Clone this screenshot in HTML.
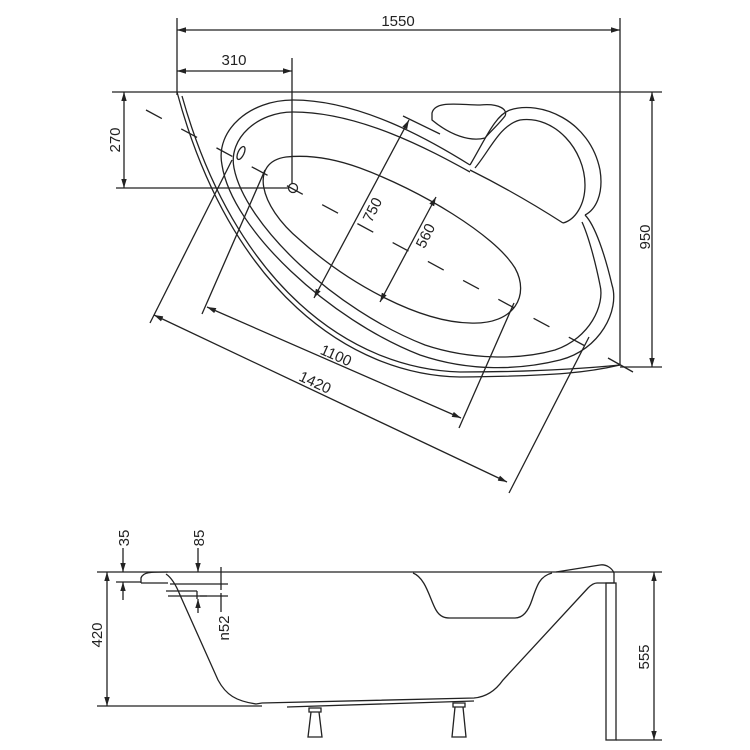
<!DOCTYPE html>
<html><head><meta charset="utf-8"><style>
html,body{margin:0;padding:0;background:#fff;}
svg{display:block;}
text{font-family:"Liberation Sans",sans-serif;font-size:15px;fill:#222;}
</style></head><body>
<svg width="750" height="750" viewBox="0 0 750 750" xmlns="http://www.w3.org/2000/svg">
<defs>
<marker id="a" viewBox="0 0 10 10" refX="10" refY="5" markerWidth="7" markerHeight="7" orient="auto-start-reverse"><path d="M0,2 L10,5 L0,8 Z" fill="#222"/></marker>
</defs>
<g fill="none" stroke="#222" stroke-width="1.3">
<line x1="177" y1="18" x2="177" y2="95"/>
<line x1="620" y1="18" x2="620" y2="92"/>
<line x1="177" y1="30" x2="620" y2="30" marker-start="url(#a)" marker-end="url(#a)"/>
<line x1="177" y1="71" x2="292" y2="71" marker-start="url(#a)" marker-end="url(#a)"/>
<line x1="292" y1="58" x2="292" y2="184"/>
<line x1="112" y1="92" x2="177" y2="92"/>
<line x1="124" y1="92" x2="124" y2="188" marker-start="url(#a)" marker-end="url(#a)"/>
<line x1="116" y1="188" x2="288" y2="188"/>
<circle cx="293" cy="188" r="4.5"/>
<line x1="620" y1="92" x2="662" y2="92"/>
<line x1="620" y1="367" x2="662" y2="367"/>
<line x1="652" y1="92" x2="652" y2="367" marker-start="url(#a)" marker-end="url(#a)"/>
<path d="M177,92 L620,92 L620,365 C590,372 560,376 460,377 C350,375 230,290 177,92"/>
<path d="M182,96 C235,285 350,369 460,372 C540,372 590,368 620,365"/>
<path d="M470,165 C430,140 360,100 293,100 C250,100 215,130 222,165 C232,230 330,320 420,355 C470,372 520,370 560,360 C600,350 620,310 612,285 C605,255 595,225 585,215"/>
<path d="M470,172 C430,150 360,112 293,112 C258,112 228,138 234,168 C245,225 335,310 425,345 C470,360 520,360 555,350 C590,338 605,305 600,285 C595,260 588,235 582,222"/>
<path d="M470,170 C500,185 535,205 563,223"/>
<path d="M470,165 C485,140 495,115 510,110 C540,100 590,120 600,170 C604,195 595,210 585,215"/>
<path d="M475,168 C490,150 500,125 520,120 C555,115 585,150 585,185 C585,205 575,220 563,223"/>
<path d="M432,113 C435,100 460,105 480,105 C500,103 508,110 505,116 C498,125 490,132 485,138 C470,142 450,135 432,120 Z"/>
<path d="M286,157 C250,162 258,205 300,240 C350,285 420,322 470,323 C515,325 530,295 515,268 C495,235 420,190 360,168 C330,157 305,155 286,157 Z"/>
<ellipse cx="241" cy="153" rx="3" ry="7" transform="rotate(25 241 153)"/>
<line x1="146" y1="110" x2="600" y2="354" stroke-dasharray="18 22"/>
<line x1="608" y1="358" x2="633" y2="372"/>
<line x1="409" y1="120" x2="314" y2="298" marker-start="url(#a)" marker-end="url(#a)"/>
<line x1="403" y1="116" x2="440" y2="134"/>
<line x1="436" y1="197" x2="380" y2="302" marker-start="url(#a)" marker-end="url(#a)"/>
<line x1="207" y1="307" x2="461" y2="418" marker-start="url(#a)" marker-end="url(#a)"/>
<line x1="154" y1="315" x2="507" y2="482" marker-start="url(#a)" marker-end="url(#a)"/>
<line x1="202" y1="314" x2="265" y2="170"/>
<line x1="150" y1="323" x2="232" y2="160"/>
<line x1="459" y1="428" x2="514" y2="303"/>
<line x1="509" y1="493" x2="589" y2="337"/>

<line x1="97" y1="572" x2="662" y2="572"/>
<line x1="97" y1="706" x2="262" y2="706"/>
<line x1="107" y1="572" x2="107" y2="706" marker-start="url(#a)" marker-end="url(#a)"/>
<line x1="616" y1="740" x2="662" y2="740"/>
<line x1="654" y1="572" x2="654" y2="740" marker-start="url(#a)" marker-end="url(#a)"/>
<line x1="116" y1="582" x2="141" y2="582"/>
<line x1="123" y1="548" x2="123" y2="572" marker-end="url(#a)"/>
<line x1="123" y1="600" x2="123" y2="582" marker-end="url(#a)"/>
<line x1="198" y1="548" x2="198" y2="572" marker-end="url(#a)"/>
<line x1="166" y1="591" x2="197" y2="591"/>
<line x1="197" y1="591" x2="197" y2="599"/>
<line x1="198" y1="613" x2="198" y2="599" marker-end="url(#a)"/>
<line x1="168" y1="596" x2="207" y2="596"/>
<line x1="170" y1="584" x2="228" y2="584"/>
<line x1="200" y1="596" x2="228" y2="596"/>
<line x1="221" y1="567" x2="221" y2="590"/>
<line x1="221" y1="593" x2="221" y2="612"/>
<path d="M141,583 L141,578 C143,572 150,572 168,572"/>
<line x1="141" y1="583" x2="168" y2="583"/>
<path d="M166,574 C172,578 176,585 180,595 L218,680 C226,695 236,701 256,704 L262,703 L474,698 C486,697 496,690 503,680 L588,588 C591,585 594,583 597,583"/>
<path d="M413,573 C426,578 430,600 436,610 C440,617 445,618 450,618 L515,618 C522,618 528,612 532,600 C537,585 540,576 552,573"/>
<path d="M556,572 L600,565 C606,564 612,568 614,573 L614,583 L597,583"/>
<rect x="606" y="583" width="10" height="157"/>
<path d="M287,707 L474,701"/>
<path d="M309,708 L321,708 L321,712 L309,712 Z M311,712 L319,712 L322,737 L308,737 Z"/>
<path d="M453,703 L465,703 L465,707 L453,707 Z M455,707 L463,707 L466,737 L452,737 Z"/>
</g>
<text x="398" y="26" text-anchor="middle">1550</text>
<text x="234" y="65" text-anchor="middle">310</text>
<text transform="translate(120,140) rotate(-90)" text-anchor="middle">270</text>
<text transform="translate(650,237) rotate(-90)" text-anchor="middle">950</text>
<text transform="translate(377,212) rotate(-64)" text-anchor="middle">750</text>
<text transform="translate(430,238) rotate(-64)" text-anchor="middle">560</text>
<text transform="translate(334,360) rotate(24)" text-anchor="middle">1100</text>
<text transform="translate(313,387) rotate(25)" text-anchor="middle">1420</text>
<text transform="translate(129,538) rotate(-90)" text-anchor="middle">35</text>
<text transform="translate(204,538) rotate(-90)" text-anchor="middle">85</text>
<text transform="translate(229,628) rotate(-90)" text-anchor="middle">n52</text>
<text transform="translate(102,635) rotate(-90)" text-anchor="middle">420</text>
<text transform="translate(649,657) rotate(-90)" text-anchor="middle">555</text>
</svg>
</body></html>
